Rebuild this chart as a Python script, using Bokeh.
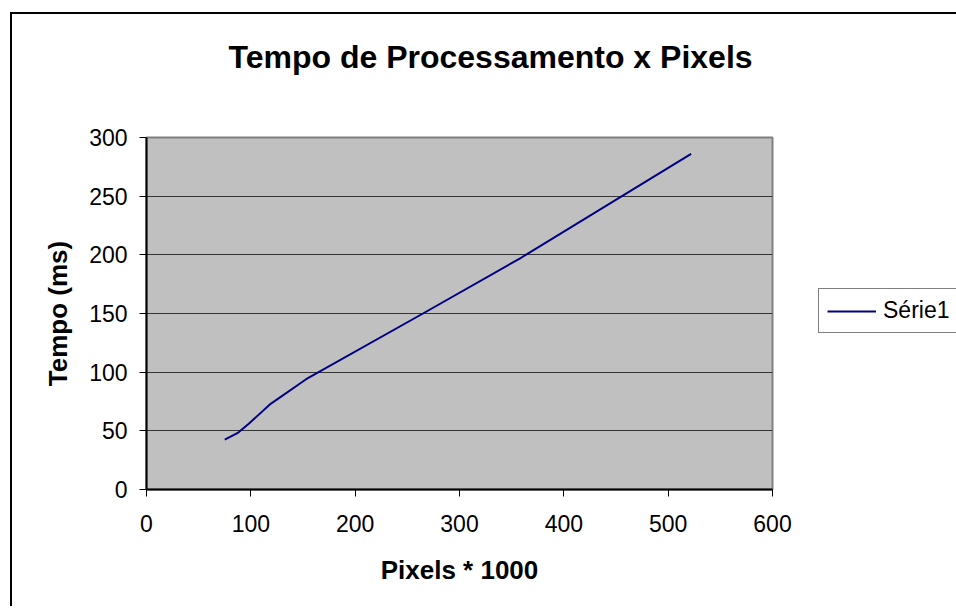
from bokeh.plotting import figure
from bokeh.models import Range1d, FixedTicker, Legend, LegendItem, Title
from bokeh.embed import file_html
from bokeh.resources import INLINE

# data
pixels_k = [75, 88, 98, 119, 153, 265, 359, 522]
tempo_ms = [42.5, 48.5, 56, 73, 94, 150, 197.5, 286]
x_ticks = [0, 100, 200, 300, 400, 500, 600]
y_ticks = [0, 50, 100, 150, 200, 250, 300]
title_text = "Tempo de Processamento x Pixels"
x_label = "Pixels * 1000"
y_label = "Tempo (ms)"
series_name = "Série1"

FONT = "Liberation Sans"

p = figure(frame_width=626, frame_height=352, output_backend="svg", toolbar_location=None,
           x_range=Range1d(0, 600), y_range=Range1d(0, 300), title=None,
           min_border_left=134, min_border_top=123, min_border_right=0,
           min_border_bottom=117)
p.styles = {"border-left": "2px solid black", "border-top": "2px solid black",
            "margin-left": "10px", "margin-top": "12px"}

p.background_fill_color = "#C0C0C0"
p.border_fill_color = "white"
p.outline_line_color = "#808080"
p.outline_line_width = 2

# spacer between plot area and title, then the title itself
p.add_layout(Title(text=" ", text_font_size="1px", standoff=60), "above")
p.add_layout(Title(text=title_text, align="left", offset=82, standoff=0,
                   text_font=FONT, text_font_style="bold",
                   text_font_size="32px", text_color="black"), "above")

for ax, ticks in ((p.xaxis[0], x_ticks), (p.yaxis[0], y_ticks)):
    ax.ticker = FixedTicker(ticks=ticks)
    ax.minor_tick_line_color = None
    ax.major_tick_out = 7
    ax.major_tick_in = 0
    ax.axis_line_color = "black"
    ax.axis_line_width = 2
    ax.major_tick_line_color = "black"
    ax.major_label_text_font = FONT
    ax.major_label_text_font_size = "23px"
    ax.major_label_text_color = "black"
    ax.axis_label_text_font = FONT
    ax.axis_label_text_font_style = "bold"
    ax.axis_label_text_font_size = "26px"
    ax.axis_label_text_color = "black"

p.xaxis.axis_label = x_label
p.yaxis.axis_label = y_label
p.xaxis.major_label_standoff = 18
p.yaxis.major_label_standoff = 12
p.xaxis.axis_label_standoff = 20
p.yaxis.axis_label_standoff = 13

p.xgrid.grid_line_color = None
p.ygrid.grid_line_color = "#333333"
p.ygrid.grid_line_width = 1

r = p.line(pixels_k, tempo_ms, line_color="#000080", line_width=2)

legend = Legend(items=[LegendItem(label=series_name, renderers=[r])],
                location=(46, 156), orientation="vertical")
legend.label_text_font = FONT
legend.label_text_font_size = "23px"
legend.label_text_color = "black"
legend.border_line_color = "black"
legend.border_line_width = 1
legend.background_fill_color = "white"
legend.background_fill_alpha = 1
legend.glyph_width = 49
legend.glyph_height = 20
legend.label_height = 20
legend.label_standoff = 7
legend.padding = 8
legend.margin = 0
p.add_layout(legend, "right")

open("out.html", "w").write(file_html(p, INLINE))
